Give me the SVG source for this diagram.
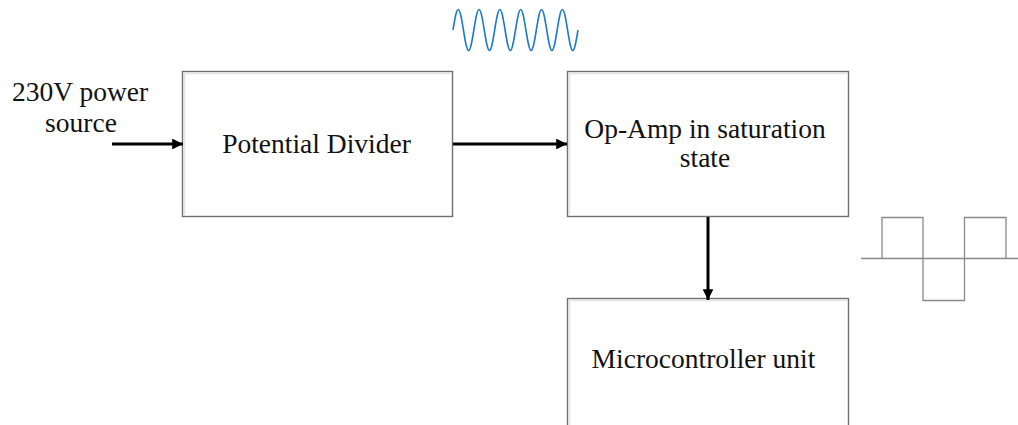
<svg xmlns="http://www.w3.org/2000/svg" width="1018" height="425" viewBox="0 0 1018 425">
  <style>
    .box { fill: #ffffff; stroke: #707070; stroke-width: 1.4; }
    .inner { fill: none; stroke: #e4e4e4; stroke-width: 1.5; }
    .label { font-family: "Liberation Serif", "Times New Roman", serif; font-size: 27.5px; fill: #111111; }
    .wire { stroke: #000000; stroke-width: 3; fill: none; }
    .square { stroke: #8a8a8a; stroke-width: 1.3; fill: none; }
    .sine { stroke: #1f7ac8; stroke-width: 1.6; fill: none; }
  </style>
  <defs>
    <marker id="arrowhead" viewBox="0 0 10 10" refX="10" refY="5" markerWidth="3.6" markerHeight="3.6" orient="auto" markerUnits="strokeWidth">
      <path d="M0,0 L10,5 L0,10 Z" fill="#000000"/>
    </marker>
  </defs>

  <rect width="1018" height="425" fill="#ffffff"/>

  <!-- input label -->
  <g id="source-label">
    <text class="label" x="80" y="101" text-anchor="middle">230V power</text>
    <text class="label" x="81" y="132" text-anchor="middle">source</text>
  </g>

  <!-- blocks -->
  <g id="potential-divider">
    <rect class="box" x="182.5" y="71.5" width="270" height="145"/>
    <path class="inner" d="M184.5,215 V73.5 H451"/>
    <text class="label" x="316.5" y="153" text-anchor="middle">Potential Divider</text>
  </g>

  <g id="op-amp">
    <rect class="box" x="567.5" y="71.5" width="281" height="145"/>
    <path class="inner" d="M569.5,215 V73.5 H847"/>
    <text class="label" x="705" y="138" text-anchor="middle">Op-Amp in saturation</text>
    <text class="label" x="705" y="167" text-anchor="middle">state</text>
  </g>

  <g id="microcontroller">
    <rect class="box" x="567.5" y="298.5" width="281" height="140"/>
    <path class="inner" d="M569.5,430 V300.5 H847"/>
    <text class="label" x="703.5" y="368" text-anchor="middle">Microcontroller unit</text>
  </g>

  <!-- connectors -->
  <g id="connectors">
    <line class="wire" x1="112" y1="144" x2="183" y2="144" marker-end="url(#arrowhead)"/>
    <line class="wire" x1="453" y1="144" x2="567" y2="144" marker-end="url(#arrowhead)"/>
    <line class="wire" x1="708" y1="217" x2="708" y2="300" marker-end="url(#arrowhead)"/>
  </g>

  <!-- AC input waveform: six sine cycles, each built from four quarter-wave cubics -->
  <g id="sine-wave">
    <path class="sine" d="M453,30
      c1.741,-10.76 3.333,-20.5 5.208,-20.5 c1.875,0 3.467,9.74 5.208,20.5 c1.741,10.76 3.333,20.5 5.208,20.5 c1.875,0 3.467,-9.74 5.208,-20.5
      c1.741,-10.76 3.333,-20.5 5.208,-20.5 c1.875,0 3.467,9.74 5.208,20.5 c1.741,10.76 3.333,20.5 5.208,20.5 c1.875,0 3.467,-9.74 5.208,-20.5
      c1.741,-10.76 3.333,-20.5 5.208,-20.5 c1.875,0 3.467,9.74 5.208,20.5 c1.741,10.76 3.333,20.5 5.208,20.5 c1.875,0 3.467,-9.74 5.208,-20.5
      c1.741,-10.76 3.333,-20.5 5.208,-20.5 c1.875,0 3.467,9.74 5.208,20.5 c1.741,10.76 3.333,20.5 5.208,20.5 c1.875,0 3.467,-9.74 5.208,-20.5
      c1.741,-10.76 3.333,-20.5 5.208,-20.5 c1.875,0 3.467,9.74 5.208,20.5 c1.741,10.76 3.333,20.5 5.208,20.5 c1.875,0 3.467,-9.74 5.208,-20.5
      c1.741,-10.76 3.333,-20.5 5.208,-20.5 c1.875,0 3.467,9.74 5.208,20.5 c1.741,10.76 3.333,20.5 5.208,20.5 c1.875,0 3.467,-9.74 5.208,-20.5"/>
  </g>

  <!-- comparator output: square wave -->
  <g id="square-wave">
    <line class="square" x1="861" y1="258.5" x2="1018" y2="258.5"/>
    <path class="square" d="M882,258.5 V217.5 H923 V300.5 H964.5 V217.5 H1006 V258.5"/>
  </g>
</svg>
